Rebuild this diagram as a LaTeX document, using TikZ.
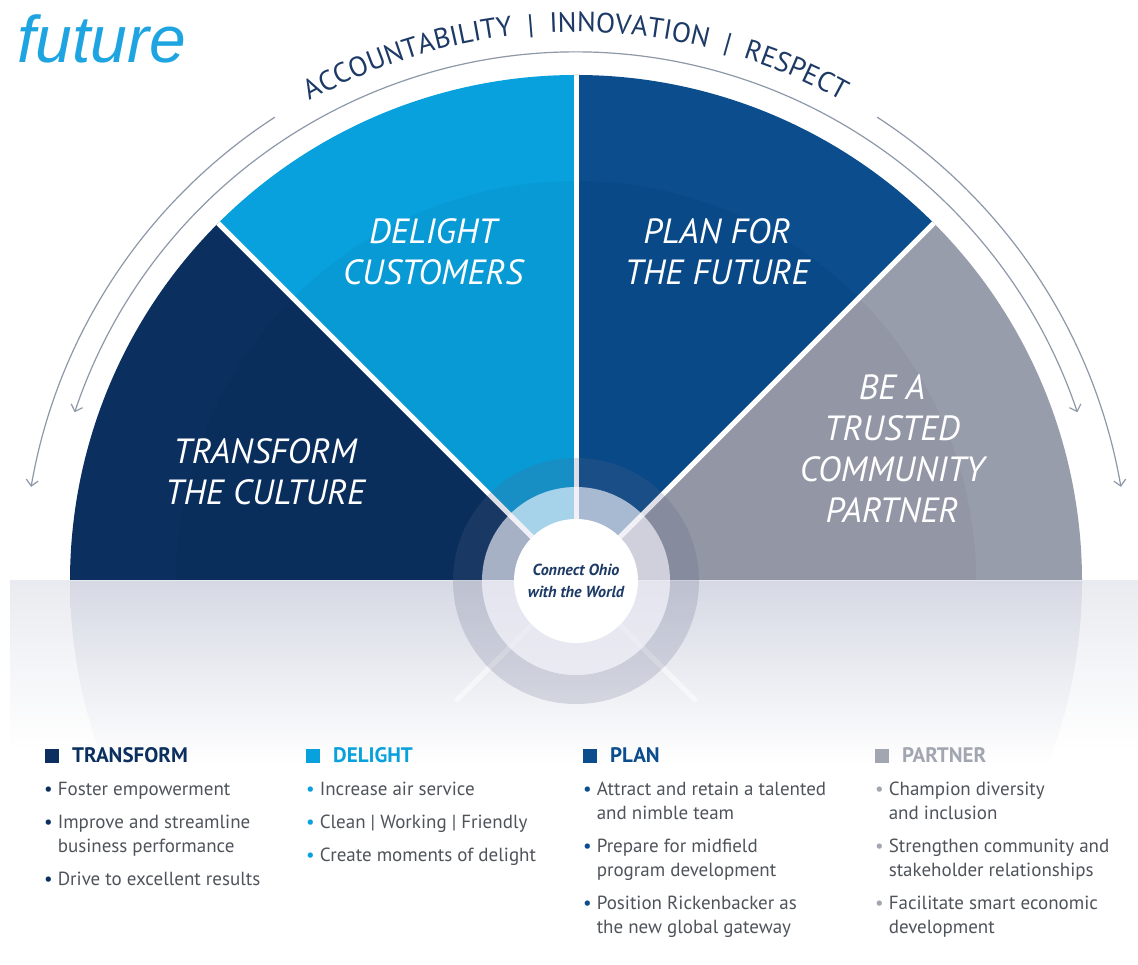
\documentclass[tikz,border=0pt]{standalone}
\usepackage{fontspec}
\setmainfont{PT Sans}
\newfontfamily\futurefont{Liberation Sans}
\usetikzlibrary{arrows.meta,decorations.text}

\definecolor{transform}{HTML}{0B3060}
\definecolor{delight}{HTML}{08A1DE}
\definecolor{plan}{HTML}{0B4D8D}
\definecolor{partner}{HTML}{989DAC}
\definecolor{arcgray}{HTML}{8D98A9}
\definecolor{navytext}{HTML}{1D3A66}
\definecolor{bodygray}{HTML}{4F545B}
\definecolor{partnerhead}{HTML}{A2A6B1}
\definecolor{skyblue}{HTML}{1EA5E1}
\definecolor{bandtop}{HTML}{E9EBF0}
\definecolor{reflecttop}{HTML}{D6D9E4}
\definecolor{ringdark}{HTML}{5A6284}
\definecolor{ringlight}{HTML}{EAEAF3}

\newcommand{\bul}[1]{\textcolor{#1}{\textbullet}}

\begin{document}
\begin{tikzpicture}[x=1pt,y=1pt,
  gap/.style={white,line width=5pt},
  valuearc/.style={arcgray,line width=1.2pt},
  tip/.style={-{Straight Barb[length=6pt,width=12pt]}},
  title/.style={text=white,align=center,font=\itshape\fontsize{35}{41}\selectfont},
  head/.style={anchor=base west,inner sep=0pt,font=\bfseries\fontsize{21}{24}\selectfont},
  sq/.style={anchor=south west,minimum size=14pt,inner sep=0pt},
  items/.style={anchor=base west,inner sep=0pt,text=bodygray,font=\fontsize{19}{24}\selectfont}]
\useasboundingbox (0,0) rectangle (1138,965);
\fill[white] (0,0) rectangle (1138,965);
\coordinate (C) at (576,384);

% four quarter segments
\fill[transform] (C) -- ++(180:506) arc[start angle=180,end angle=135,radius=506] -- cycle;
\fill[delight] (C) -- ++(135:506) arc[start angle=135,end angle=90,radius=506] -- cycle;
\fill[plan] (C) -- ++(90:506) arc[start angle=90,end angle=45,radius=506] -- cycle;
\fill[partner] (C) -- ++(45:506) arc[start angle=45,end angle=0,radius=506] -- cycle;
\fill[black,opacity=0.04] (C) -- ++(0:400) arc[start angle=0,end angle=180,radius=400] -- cycle;
\draw[gap] (C) -- ++(135:506);
\draw[gap] (C) -- ++(90:506);
\draw[gap] (C) -- ++(45:506);

% floor under the half disc
\shade[top color=bandtop,bottom color=white] (10,215) rectangle (1138,384);
\begin{scope}
\clip (C) -- ++(180:506) arc[start angle=180,end angle=360,radius=506] -- cycle;
\shade[top color=reflecttop,bottom color=white] (60,200) rectangle (1092,384);
\end{scope}
\draw[gap,opacity=0.5] (C) -- ++(225:170);
\draw[gap,opacity=0.5] (C) -- ++(315:170);

% hub rings
\fill[ringdark,opacity=0.2,even odd rule] (C) circle[radius=123] (C) circle[radius=94];
\fill[ringlight,opacity=0.7] (C) circle[radius=94];
\fill[white] (C) circle[radius=62];
\node[font=\bfseries\itshape\fontsize{16}{22}\selectfont,text=navytext,align=center] (hub) at (C) {Connect Ohio\\with the World};

% titles
\node[title] (tTransform) at (265,493) {TRANSFORM\\THE CULTURE};
\node[title] (tDelight) at (433,713) {DELIGHT\\CUSTOMERS};
\node[title] (tPlan) at (717,713) {PLAN FOR\\THE FUTURE};
\node[title] (tPartner) at (892,516) {BE A\\TRUSTED\\COMMUNITY\\PARTNER};

% values arcs
\draw[valuearc,tip] (C) ++(123:553) arc[start angle=123,end angle=170.2,radius=553];
\draw[valuearc,tip] (C) ++(57:553) arc[start angle=57,end angle=9.8,radius=553];
\draw[valuearc,{Straight Barb[length=6pt,width=12pt]}-{Straight Barb[length=6pt,width=12pt]}]
  (C) ++(161.4:529) arc[start angle=161.4,end angle=18.6,radius=529];
\path[decorate,decoration={text along path,text align=fit to path stretching spaces,text color=navytext,
  text format delimiters={[}{]},
  text={[\fontsize{28}{28}\selectfont]ACCOUNTABILITY | INNOVATION | RESPECT}}]
  (C) ++(119:549) arc[start angle=119,end angle=61,radius=549];

\node[anchor=base west,inner sep=0pt,text=skyblue,font=\futurefont\itshape\fontsize{66}{66}\selectfont] (motto) at (17,902) {future};

% legend columns
\node[sq,fill=transform] (sqT) at (45,202) {};
\node[head,text=transform] (hT) at (72,202) {TRANSFORM};
\node[items] (listT) at (44,169) {\begin{tabular}[t]{@{}l@{\hspace{5pt}}l@{}}
\bul{transform} & Foster empowerment\\[9pt]
\bul{transform} & Improve and streamline\\
 & business performance\\[9pt]
\bul{transform} & Drive to excellent results
\end{tabular}};

\node[sq,fill=delight] (sqD) at (306,202) {};
\node[head,text=delight] (hD) at (333,202) {DELIGHT};
\node[items] (listD) at (306,169) {\begin{tabular}[t]{@{}l@{\hspace{5pt}}l@{}}
\bul{delight} & Increase air service\\[9pt]
\bul{delight} & Clean | Working | Friendly\\[9pt]
\bul{delight} & Create moments of delight
\end{tabular}};

\node[sq,fill=plan] (sqP) at (583,202) {};
\node[head,text=plan] (hP) at (610,202) {PLAN};
\node[items] (listP) at (583,169) {\begin{tabular}[t]{@{}l@{\hspace{5pt}}l@{}}
\bul{plan} & Attract and retain a talented\\
 & and nimble team\\[9pt]
\bul{plan} & Prepare for midfield\\
 & program development\\[9pt]
\bul{plan} & Position Rickenbacker as\\
 & the new global gateway
\end{tabular}};

\node[sq,fill=partnerhead] (sqR) at (875,202) {};
\node[head,text=partnerhead] (hR) at (902,202) {PARTNER};
\node[items] (listR) at (875,169) {\begin{tabular}[t]{@{}l@{\hspace{5pt}}l@{}}
\bul{partnerhead} & Champion diversity\\
 & and inclusion\\[9pt]
\bul{partnerhead} & Strengthen community and\\
 & stakeholder relationships\\[9pt]
\bul{partnerhead} & Facilitate smart economic\\
 & development
\end{tabular}};
\end{tikzpicture}
\end{document}
